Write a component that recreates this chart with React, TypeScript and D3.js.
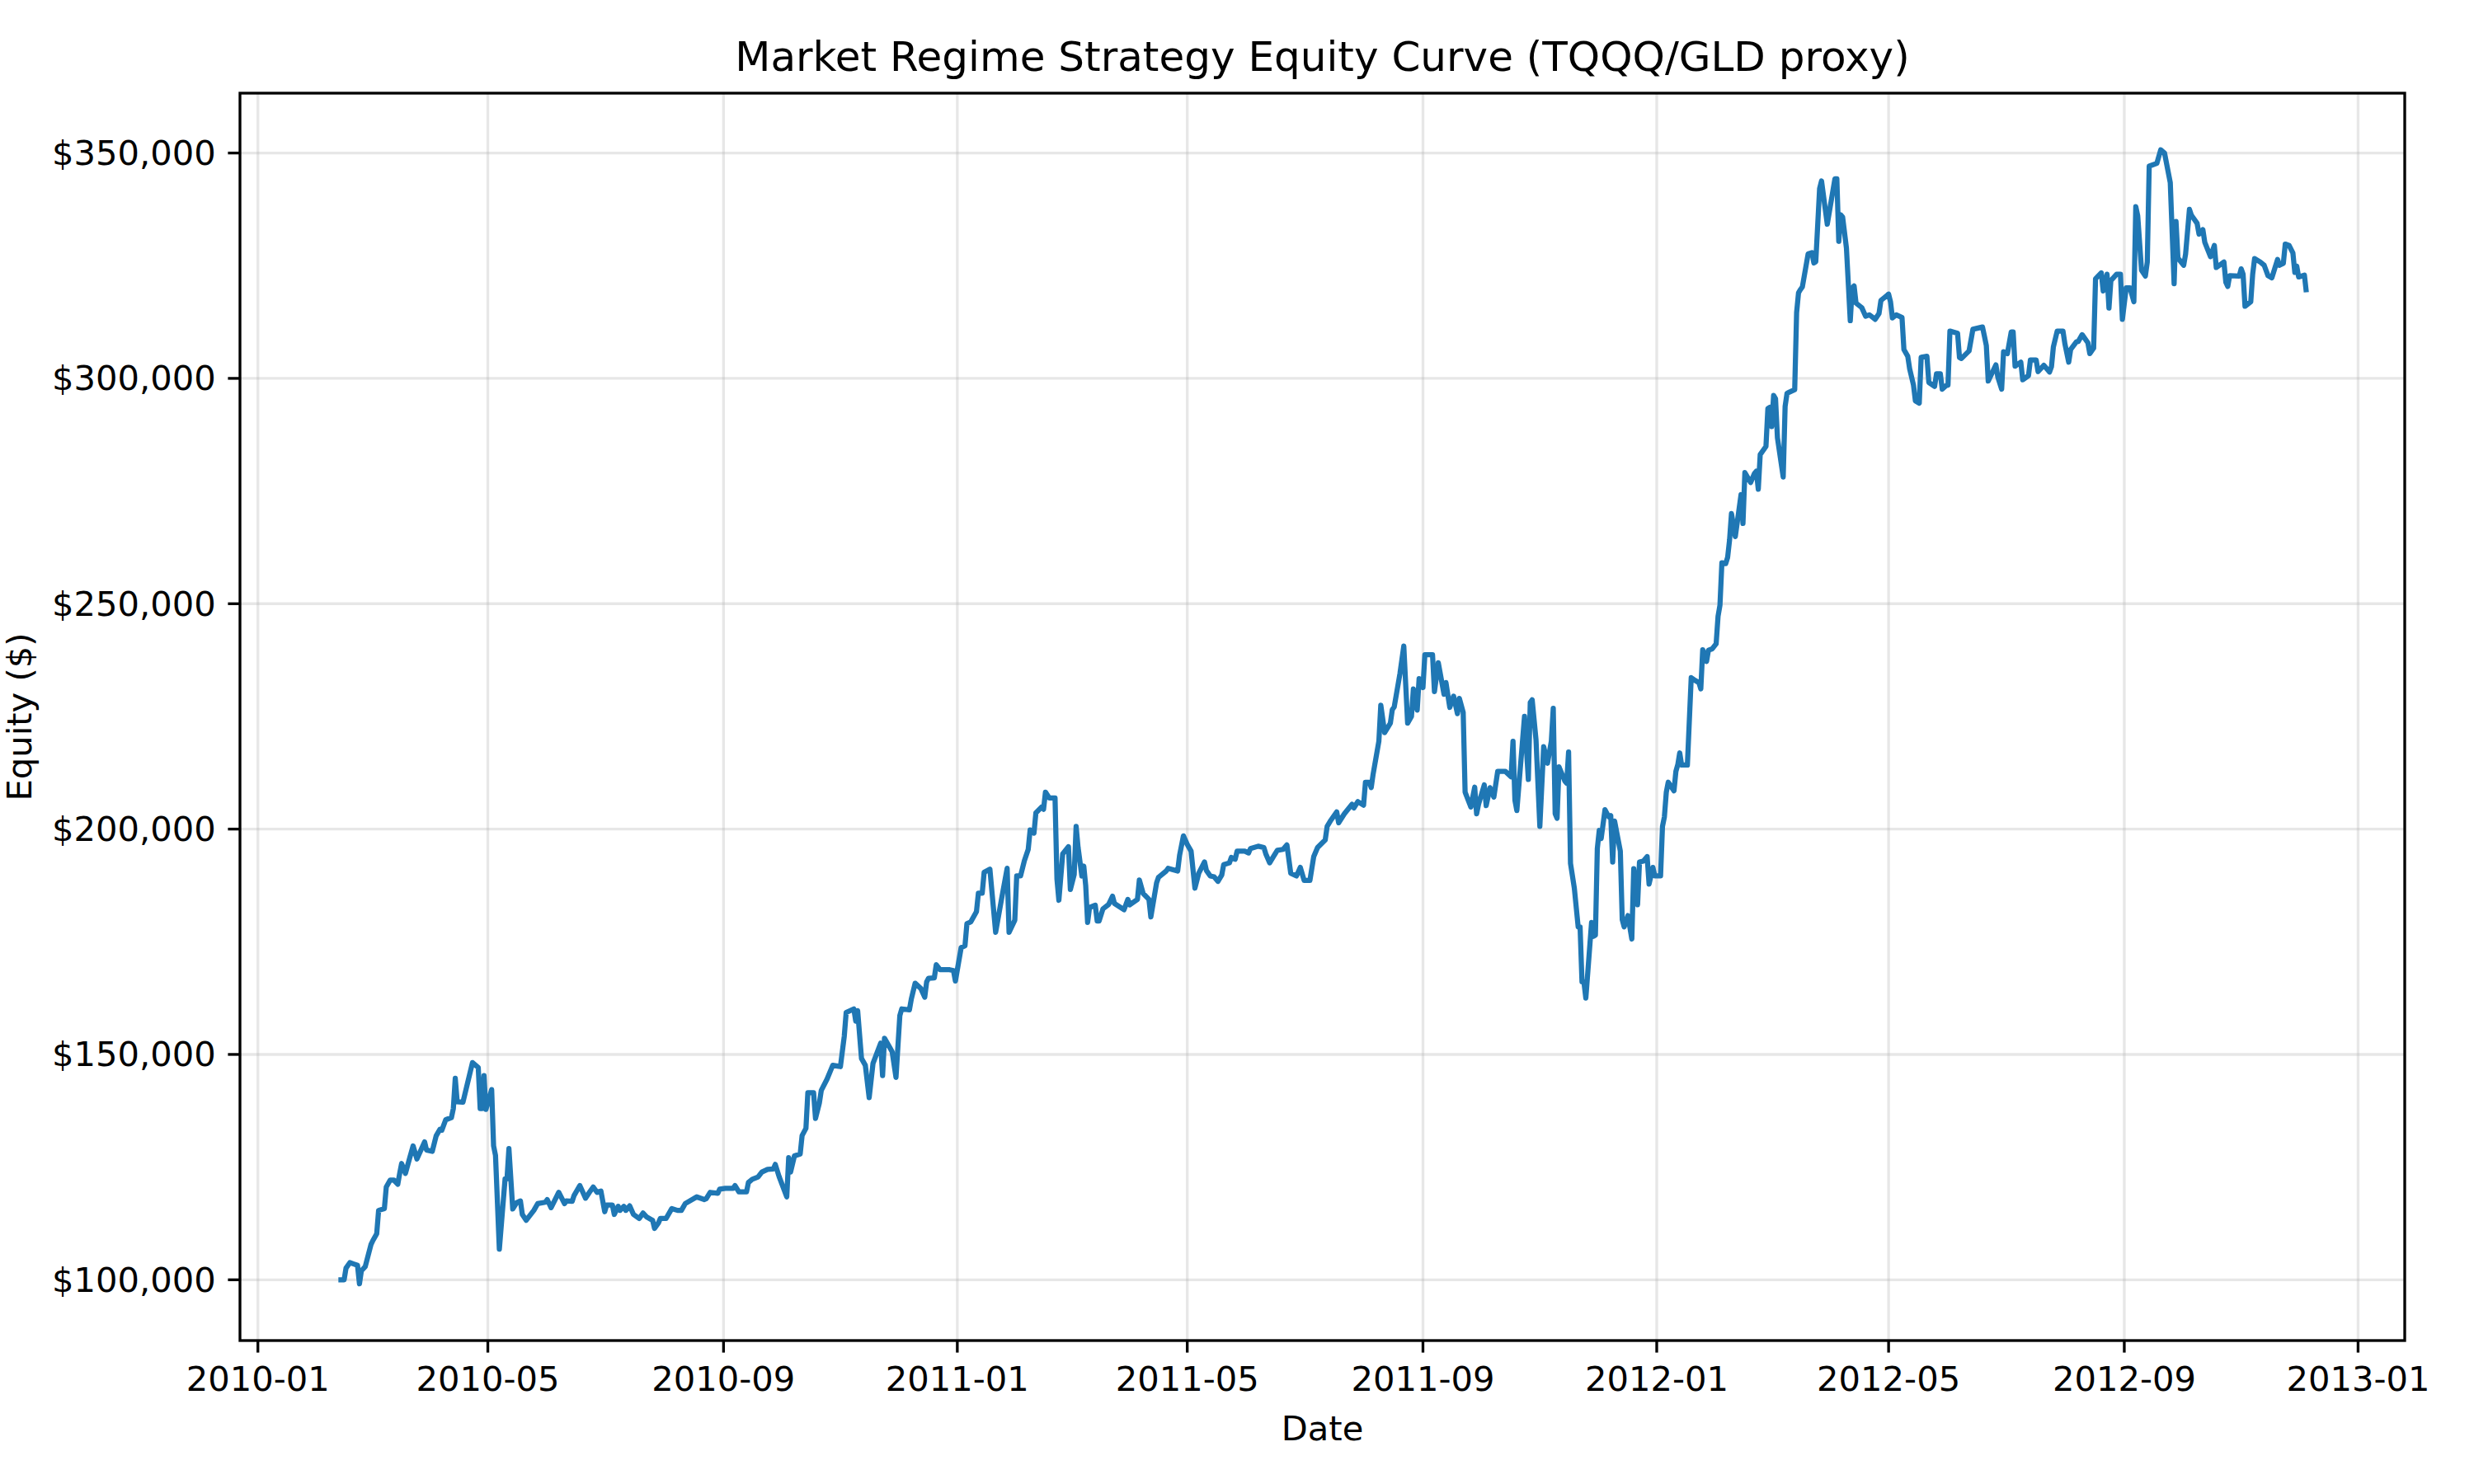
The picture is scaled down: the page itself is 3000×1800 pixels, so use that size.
import React from "react";
import * as d3 from "d3";

const chartTitle = "Market Regime Strategy Equity Curve (TQQQ/GLD proxy)";
const xAxisLabel = "Date";
const yAxisLabel = "Equity ($)";

const dates: string[] = [
  "2010-02-12","2010-02-15","2010-02-16","2010-02-18","2010-02-20","2010-02-22","2010-02-23","2010-02-24","2010-02-26","2010-03-01",
  "2010-03-02","2010-03-04","2010-03-05","2010-03-08","2010-03-09","2010-03-11","2010-03-13","2010-03-15","2010-03-16","2010-03-17",
  "2010-03-19","2010-03-21","2010-03-23","2010-03-25","2010-03-29","2010-03-30","2010-04-02","2010-04-04","2010-04-06","2010-04-07",
  "2010-04-09","2010-04-12","2010-04-13","2010-04-14","2010-04-15","2010-04-18","2010-04-23","2010-04-26","2010-04-27","2010-04-28",
  "2010-04-29","2010-04-30","2010-05-03","2010-05-04","2010-05-05","2010-05-07","2010-05-10","2010-05-11","2010-05-12","2010-05-14",
  "2010-05-16","2010-05-18","2010-05-19","2010-05-21","2010-05-25","2010-05-27","2010-05-31","2010-06-01","2010-06-03","2010-06-07",
  "2010-06-10","2010-06-11","2010-06-14","2010-06-15","2010-06-18","2010-06-21","2010-06-23","2010-06-25","2010-06-27","2010-06-29",
  "2010-07-01","2010-07-02","2010-07-05","2010-07-06","2010-07-08","2010-07-09","2010-07-11","2010-07-12","2010-07-14","2010-07-16",
  "2010-07-19","2010-07-21","2010-07-23","2010-07-26","2010-07-27","2010-07-29","2010-07-30","2010-08-02","2010-08-05","2010-08-08",
  "2010-08-10","2010-08-12","2010-08-18","2010-08-22","2010-08-23","2010-08-25","2010-08-29","2010-08-30","2010-09-02","2010-09-06",
  "2010-09-07","2010-09-09","2010-09-13","2010-09-14","2010-09-16","2010-09-19","2010-09-21","2010-09-24","2010-09-27","2010-09-28",
  "2010-09-30","2010-10-04","2010-10-05","2010-10-06","2010-10-08","2010-10-11","2010-10-12","2010-10-14","2010-10-15","2010-10-18",
  "2010-10-19","2010-10-21","2010-10-22","2010-10-25","2010-10-28","2010-11-01","2010-11-03","2010-11-04","2010-11-08","2010-11-09",
  "2010-11-10","2010-11-12","2010-11-14","2010-11-16","2010-11-18","2010-11-22","2010-11-23","2010-11-24","2010-11-28","2010-11-30",
  "2010-12-02","2010-12-03","2010-12-07","2010-12-08","2010-12-10","2010-12-13","2010-12-15","2010-12-16","2010-12-17","2010-12-20",
  "2010-12-21","2010-12-23","2010-12-28","2010-12-30","2010-12-31",
  "2011-01-03","2011-01-05","2011-01-06","2011-01-08","2011-01-11","2011-01-12","2011-01-14","2011-01-15","2011-01-18","2011-01-21",
  "2011-01-24","2011-01-27","2011-01-28","2011-01-31","2011-02-01","2011-02-03","2011-02-05","2011-02-07","2011-02-08","2011-02-10",
  "2011-02-11","2011-02-14","2011-02-15","2011-02-16","2011-02-18","2011-02-21","2011-02-22","2011-02-23","2011-02-25","2011-02-28",
  "2011-03-01","2011-03-03","2011-03-04","2011-03-05","2011-03-07","2011-03-08","2011-03-09","2011-03-10","2011-03-11","2011-03-14",
  "2011-03-15","2011-03-16","2011-03-18","2011-03-21","2011-03-23","2011-03-24","2011-03-29","2011-03-31","2011-04-01","2011-04-05",
  "2011-04-06","2011-04-08","2011-04-11","2011-04-12","2011-04-15","2011-04-16","2011-04-20","2011-04-21","2011-04-26","2011-04-27",
  "2011-04-29","2011-05-01","2011-05-03","2011-05-05","2011-05-07","2011-05-10","2011-05-11","2011-05-13","2011-05-15","2011-05-17",
  "2011-05-19","2011-05-20","2011-05-23","2011-05-24","2011-05-26","2011-05-27","2011-05-31","2011-06-02","2011-06-03","2011-06-07",
  "2011-06-10","2011-06-11","2011-06-13","2011-06-15","2011-06-17","2011-06-20","2011-06-22","2011-06-24","2011-06-27","2011-06-29",
  "2011-07-01","2011-07-04","2011-07-06","2011-07-08","2011-07-12","2011-07-13","2011-07-15","2011-07-18","2011-07-19","2011-07-22",
  "2011-07-26","2011-07-27","2011-07-29","2011-08-01","2011-08-02","2011-08-04","2011-08-05","2011-08-06","2011-08-09","2011-08-10",
  "2011-08-12","2011-08-15","2011-08-16","2011-08-17","2011-08-20","2011-08-22","2011-08-24","2011-08-26","2011-08-27","2011-08-29",
  "2011-08-30","2011-09-01","2011-09-02","2011-09-06","2011-09-07","2011-09-09","2011-09-12","2011-09-13","2011-09-15","2011-09-17",
  "2011-09-19","2011-09-20","2011-09-22","2011-09-23","2011-09-26","2011-09-28","2011-09-29","2011-09-30","2011-10-03","2011-10-04",
  "2011-10-06","2011-10-08","2011-10-10","2011-10-14","2011-10-17","2011-10-18","2011-10-19","2011-10-20","2011-10-24","2011-10-26",
  "2011-10-27","2011-10-28","2011-10-30","2011-11-01","2011-11-03","2011-11-05","2011-11-07","2011-11-08","2011-11-09","2011-11-10",
  "2011-11-11","2011-11-14","2011-11-15","2011-11-16","2011-11-17","2011-11-19","2011-11-21","2011-11-22","2011-11-23","2011-11-24",
  "2011-11-25","2011-11-28","2011-11-29","2011-11-30","2011-12-01","2011-12-02","2011-12-03","2011-12-05","2011-12-07","2011-12-08",
  "2011-12-09","2011-12-10","2011-12-13","2011-12-14","2011-12-15","2011-12-17","2011-12-19","2011-12-20","2011-12-22","2011-12-23",
  "2011-12-25","2011-12-27","2011-12-28","2011-12-30","2011-12-31",
  "2012-01-03","2012-01-04","2012-01-05","2012-01-06","2012-01-07","2012-01-10","2012-01-11","2012-01-12","2012-01-13","2012-01-14",
  "2012-01-17","2012-01-19","2012-01-21","2012-01-23","2012-01-24","2012-01-25","2012-01-27","2012-01-28","2012-01-30","2012-02-01",
  "2012-02-02","2012-02-03","2012-02-04","2012-02-06","2012-02-07","2012-02-08","2012-02-09","2012-02-11","2012-02-14","2012-02-15",
  "2012-02-16","2012-02-19","2012-02-21","2012-02-22","2012-02-23","2012-02-24","2012-02-27","2012-02-28","2012-02-29","2012-03-01",
  "2012-03-02","2012-03-03","2012-03-04","2012-03-07","2012-03-08","2012-03-09","2012-03-10","2012-03-13","2012-03-14","2012-03-15",
  "2012-03-16","2012-03-17","2012-03-20","2012-03-22","2012-03-23","2012-03-24","2012-03-26","2012-03-27","2012-03-30","2012-04-03",
  "2012-04-04","2012-04-05","2012-04-06","2012-04-07","2012-04-09","2012-04-11","2012-04-12","2012-04-13","2012-04-14","2012-04-17",
  "2012-04-19","2012-04-21","2012-04-24","2012-04-26","2012-04-27","2012-04-29","2012-05-01","2012-05-02","2012-05-03","2012-05-05",
  "2012-05-08","2012-05-09","2012-05-11","2012-05-12","2012-05-14","2012-05-15","2012-05-17","2012-05-18","2012-05-21","2012-05-22",
  "2012-05-25","2012-05-26","2012-05-28","2012-05-29","2012-05-31","2012-06-01","2012-06-02","2012-06-06","2012-06-07","2012-06-08",
  "2012-06-12","2012-06-14","2012-06-19","2012-06-20","2012-06-21","2012-06-22","2012-06-26","2012-06-27","2012-06-29","2012-06-30",
  "2012-07-02","2012-07-04","2012-07-05","2012-07-06","2012-07-09","2012-07-10","2012-07-13","2012-07-14","2012-07-17","2012-07-18",
  "2012-07-21","2012-07-24","2012-07-25","2012-07-26","2012-07-28","2012-07-31","2012-08-01","2012-08-03","2012-08-04","2012-08-07",
  "2012-08-08","2012-08-10","2012-08-13","2012-08-14","2012-08-16","2012-08-17","2012-08-20","2012-08-21","2012-08-23","2012-08-24",
  "2012-08-25","2012-08-28","2012-08-30","2012-08-31","2012-09-02","2012-09-04","2012-09-06","2012-09-07","2012-09-08","2012-09-10",
  "2012-09-12","2012-09-13","2012-09-14","2012-09-18","2012-09-20","2012-09-22","2012-09-25","2012-09-27","2012-09-28","2012-09-29",
  "2012-10-02","2012-10-03","2012-10-05","2012-10-06","2012-10-09","2012-10-10","2012-10-12","2012-10-13","2012-10-16","2012-10-18",
  "2012-10-19","2012-10-23","2012-10-24","2012-10-25","2012-10-26","2012-10-31","2012-11-01","2012-11-02","2012-11-03","2012-11-06",
  "2012-11-07","2012-11-08","2012-11-11","2012-11-13","2012-11-15","2012-11-17","2012-11-20","2012-11-21","2012-11-23","2012-11-24",
  "2012-11-26","2012-11-28","2012-11-29","2012-11-30","2012-12-01","2012-12-04","2012-12-05"
];

// equity in thousands of dollars
const equityThousands: number[] = [
  100.0,100.0,102.6,103.8,103.5,103.2,99.1,102.0,102.9,107.8,
  108.7,110.2,115.4,115.8,120.6,122.1,122.1,121.2,123.6,125.8,
  123.6,126.7,129.7,126.8,130.6,128.8,128.5,131.9,133.4,133.2,
  135.5,136.0,138.0,144.7,139.5,139.4,148.2,147.1,138.0,138.0,
  145.3,137.8,142.2,129.7,127.6,106.8,122.4,122.4,129.1,115.7,
  117.1,117.5,114.5,113.2,115.4,116.9,117.2,117.8,116.0,119.4,
  116.9,117.5,117.4,118.7,120.9,118.1,119.4,120.6,119.4,119.7,
  115.1,116.6,116.6,114.5,116.3,115.4,116.3,115.4,116.4,114.5,
  113.6,114.8,113.9,113.2,111.4,112.6,113.6,113.6,115.8,115.4,
  115.4,116.9,118.4,117.8,118.0,119.4,119.2,120.1,120.3,120.3,
  120.9,119.5,119.5,121.6,122.3,122.8,123.9,124.5,124.6,125.6,
  122.9,118.4,127.1,123.9,127.5,127.9,132.0,133.6,141.5,141.5,
  135.8,139.2,142.0,144.5,147.6,147.3,154.0,159.3,160.1,157.4,
  159.7,149.1,147.6,140.4,148.0,152.5,145.3,153.6,150.6,144.9,
  158.6,160.1,159.9,162.3,165.8,164.6,162.7,166.1,166.9,167.0,
  169.9,168.8,168.8,168.6,166.3,
  173.7,174.1,179.0,179.4,181.7,185.8,185.8,190.4,191.1,177.1,
  184.3,191.3,177.1,179.8,189.6,189.6,193.0,195.5,199.8,199.1,
  203.6,204.9,204.4,208.2,206.9,206.9,188.9,184.2,194.5,196.1,
  186.6,189.9,200.6,196.0,189.6,191.8,187.5,179.3,182.6,183.1,
  179.6,179.6,182.3,183.3,185.1,183.5,182.1,184.4,183.2,184.4,
  188.7,185.7,184.4,180.5,188.1,189.3,190.7,191.3,190.7,194.2,
  198.5,196.6,195.1,186.9,190.2,192.7,190.8,189.6,189.4,188.4,
  189.8,192.1,192.5,193.7,193.3,195.1,195.1,194.7,195.7,196.2,
  195.9,194.5,192.5,193.9,195.3,195.5,196.5,190.2,189.6,191.5,
  188.6,188.6,193.9,195.9,197.6,200.6,202.0,203.8,201.4,203.4,
  205.5,204.7,206.1,205.3,210.4,210.4,209.2,212.2,219.5,227.5,
  221.4,223.5,226.5,227.1,234.5,240.6,223.5,225.0,231.1,226.4,
  233.4,231.4,238.7,238.7,230.5,236.9,229.9,232.5,227.0,229.5,
  225.6,229.0,225.9,208.2,204.9,209.3,203.4,205.5,209.8,205.2,
  209.2,207.1,212.8,212.8,211.6,219.5,206.4,204.1,225.0,211.0,
  228.1,228.7,219.8,200.6,218.3,214.6,219.5,226.8,203.4,202.4,
  213.8,210.7,210.2,217.1,192.4,186.9,178.3,178.3,166.1,166.1,
  162.5,179.3,176.2,176.5,195.7,199.7,197.9,204.3,202.7,203.0,
  192.7,201.8,195.1,179.9,178.3,180.8,175.6,191.2,183.2,192.7,
  192.9,193.9,187.8,191.5,189.6,
  189.6,200.6,202.7,208.2,210.4,208.5,212.8,214.3,216.9,214.2,
  214.2,233.6,233.0,232.5,231.1,239.8,237.2,239.7,240.0,241.1,
  247.2,249.7,259.1,258.9,260.3,264.1,270.0,264.9,274.2,267.8,
  279.1,276.9,278.9,279.4,275.4,283.1,284.9,293.3,293.6,289.3,
  296.2,295.5,286.8,278.1,293.8,296.7,296.9,297.5,314.6,319.0,
  319.7,320.3,327.6,327.9,325.6,325.9,342.1,343.8,334.2,344.3,
  344.3,330.4,336.3,335.8,328.9,312.8,320.0,320.5,316.7,315.7,
  313.8,314.1,313.1,314.4,317.3,318.0,318.7,317.0,313.4,314.1,
  313.5,306.4,304.9,302.1,298.5,295.0,294.5,304.7,304.9,299.1,
  298.2,301.0,301.0,297.6,298.4,298.5,310.5,310.0,304.6,304.4,
  306.1,310.9,311.4,309.4,307.3,299.4,303.0,300.3,297.6,305.9,
  305.5,310.3,310.3,302.7,303.6,299.7,300.6,304.1,304.1,301.5,
  302.9,301.4,302.6,307.0,310.5,310.5,307.7,303.6,306.4,308.1,
  308.2,309.7,307.9,305.5,306.7,322.1,323.4,319.4,323.1,315.6,
  321.7,323.1,323.1,313.1,320.1,320.1,317.0,338.1,336.1,324.0,
  322.7,325.8,347.1,347.7,350.7,350.0,343.4,321.0,334.8,326.7,
  325.1,327.6,337.5,336.2,334.4,332.0,333.0,330.2,327.0,329.5,
  324.6,325.8,321.3,320.4,322.8,322.7,324.3,323.1,316.0,317.0,
  323.1,326.6,325.8,325.1,322.8,322.3,326.4,325.1,325.5,329.8,
  329.5,327.8,323.5,324.9,322.5,322.9,319.1
];

const yTickValues: number[] = [100000, 150000, 200000, 250000, 300000, 350000];

const W = 3000;
const H = 1800;
const LEFT = 291;
const RIGHT = 2916;
const TOP = 113;
const BOTTOM = 1626;
const FONT = "'DejaVu Sans', 'Liberation Sans', sans-serif";
const LINE_COLOR = "#1f77b4";

export default function App() {
  const parse = d3.utcParse("%Y-%m-%d");
  const data = dates.map((d, i) => ({ date: parse(d) as Date, value: equityThousands[i] * 1000 }));

  const [t0, t1] = d3.extent(data, (d) => d.date.getTime()) as [number, number];
  const tPad = (t1 - t0) * 0.05;
  const x = d3.scaleUtc().domain([new Date(t0 - tPad), new Date(t1 + tPad)]).range([LEFT, RIGHT]);

  const [v0, v1] = d3.extent(data, (d) => d.value) as [number, number];
  const vPad = (v1 - v0) * 0.05;
  const y = d3.scaleLinear().domain([v0 - vPad, v1 + vPad]).range([BOTTOM, TOP]);

  const xTicks = x.ticks(d3.utcMonth.every(4) as any);
  const fmtX = d3.utcFormat("%Y-%m");
  const fmtY = d3.format("$,.0f");

  const line = d3
    .line<{ date: Date; value: number }>()
    .x((d) => x(d.date))
    .y((d) => y(d.value));

  const tickLen = 14.6;
  const tickW = 3.33;
  const labelPad = 14.6;

  return (
    <svg
      width={W}
      height={H}
      viewBox={`0 0 ${W} ${H}`}
      style={{ position: "absolute", left: 0, top: 0, background: "#ffffff" }}
      fontFamily={FONT}
    >
      <rect x={0} y={0} width={W} height={H} fill="#ffffff" />
      {/* grid */}
      <g stroke="#b0b0b0" strokeOpacity={0.3} strokeWidth={3.33}>
        {xTicks.map((t, i) => (
          <line key={"gx" + i} x1={x(t)} x2={x(t)} y1={TOP} y2={BOTTOM} />
        ))}
        {yTickValues.map((v, i) => (
          <line key={"gy" + i} x1={LEFT} x2={RIGHT} y1={y(v)} y2={y(v)} />
        ))}
      </g>
      {/* equity line */}
      <path
        d={line(data) || ""}
        fill="none"
        stroke={LINE_COLOR}
        strokeWidth={6.25}
        strokeLinejoin="round"
        strokeLinecap="butt"
      />
      {/* spines */}
      <rect
        x={LEFT}
        y={TOP}
        width={RIGHT - LEFT}
        height={BOTTOM - TOP}
        fill="none"
        stroke="#000000"
        strokeWidth={3.33}
      />
      {/* x ticks */}
      <g>
        {xTicks.map((t, i) => (
          <g key={"xt" + i}>
            <line x1={x(t)} x2={x(t)} y1={BOTTOM} y2={BOTTOM + tickLen} stroke="#000" strokeWidth={tickW} />
            <text x={x(t)} y={1687} textAnchor="middle" fontSize={41.67} fill="#000">
              {fmtX(t)}
            </text>
          </g>
        ))}
      </g>
      {/* y ticks */}
      <g>
        {yTickValues.map((v, i) => (
          <g key={"yt" + i}>
            <line x1={LEFT - tickLen} x2={LEFT} y1={y(v)} y2={y(v)} stroke="#000" strokeWidth={tickW} />
            <text
              x={LEFT - tickLen - labelPad}
              y={y(v)}
              textAnchor="end"
              dominantBaseline="central"
              fontSize={41.67}
              fill="#000"
            >
              {fmtY(v)}
            </text>
          </g>
        ))}
      </g>
      {/* labels */}
      <text x={(LEFT + RIGHT) / 2} y={86} textAnchor="middle" fontSize={50} fill="#000">
        {chartTitle}
      </text>
      <text x={(LEFT + RIGHT) / 2} y={1747} textAnchor="middle" fontSize={41.67} fill="#000">
        {xAxisLabel}
      </text>
      <text
        transform={`translate(38, ${(TOP + BOTTOM) / 2}) rotate(-90)`}
        textAnchor="middle"
        fontSize={41.67}
        fill="#000"
      >
        {yAxisLabel}
      </text>
    </svg>
  );
}
